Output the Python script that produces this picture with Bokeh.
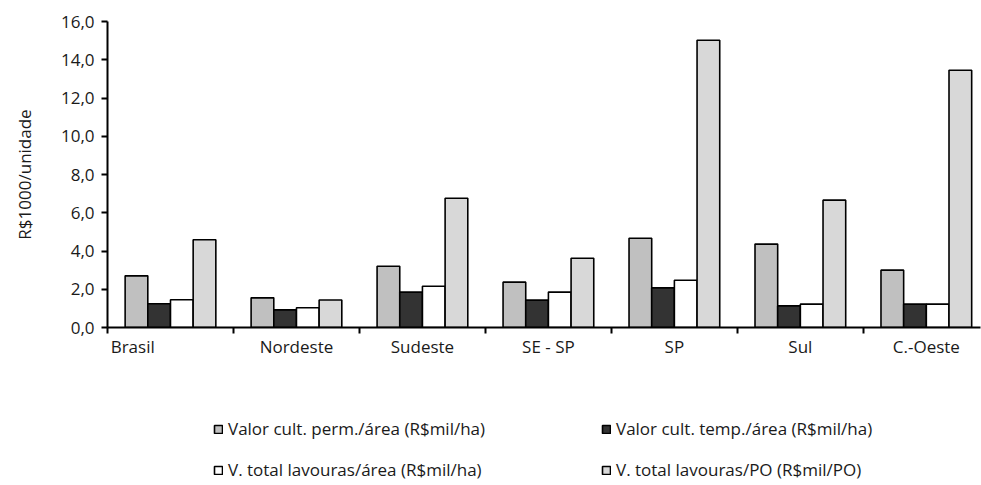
from bokeh.plotting import figure
from bokeh.layouts import column
from bokeh.models import Range1d, FixedTicker, LinearAxis, Legend, LegendItem, ColumnDataSource
from bokeh.embed import file_html
from bokeh.resources import INLINE

# Regions shown on the category axis
regions = ["Brasil", "Nordeste", "Sudeste", "SE - SP", "SP", "Sul", "C.-Oeste"]

# Series values (R$ 1000 per unit)
perm_area = [2.70, 1.55, 3.20, 2.37, 4.67, 4.36, 3.00]
temp_area = [1.24, 0.92, 1.85, 1.43, 2.07, 1.13, 1.22]
total_area = [1.45, 1.03, 2.16, 1.85, 2.47, 1.22, 1.22]
total_po = [4.59, 1.44, 6.76, 3.62, 15.02, 6.66, 13.45]

series_names = [
    "Valor cult. perm./área (R$mil/ha)",
    "Valor cult. temp./área (R$mil/ha)",
    "V. total lavouras/área (R$mil/ha)",
    "V. total lavouras/PO (R$mil/PO)",
]
series_values = [perm_area, temp_area, total_area, total_po]
series_colors = ["#c0c0c0", "#333333", "#ffffff", "#d8d8d8"]

y_ticks = [0, 2, 4, 6, 8, 10, 12, 14, 16]
y_tick_labels = ["0,0", "2,0", "4,0", "6,0", "8,0", "10,0", "12,0", "14,0", "16,0"]

FONT = "Open Sans"
FS = "17px"
TEXT_COLOR = "#1a1a1a"

p = figure(
    width=981, height=365,
    output_backend="svg", toolbar_location=None,
    x_range=Range1d(0, 6.93), y_range=Range1d(0, 16),
    min_border_left=107, min_border_right=1, min_border_top=21, min_border_bottom=38,
)
p.outline_line_color = None
p.grid.grid_line_color = None
p.background_fill_color = "white"
p.border_fill_color = "white"

# grouped bars
n = len(series_values)
bw = 0.18
for i, (vals, col) in enumerate(zip(series_values, series_colors)):
    xs = [k + 0.5 + (i - (n - 1) / 2) * bw for k in range(len(regions))]
    src = ColumnDataSource(dict(x=xs, top=vals))
    p.vbar(x="x", top="top", width=bw, bottom=0, source=src,
           fill_color=col, line_color="black", line_width=1.6)

# y axis
yax = p.yaxis[0]
yax.ticker = FixedTicker(ticks=y_ticks, minor_ticks=[])
yax.major_label_overrides = {t: l for t, l in zip(y_ticks, y_tick_labels)}
yax.axis_label = "R$1000/unidade"
yax.axis_label_text_font = FONT
yax.axis_label_text_font_size = FS
yax.axis_label_text_font_style = "normal"
yax.axis_label_text_color = TEXT_COLOR
yax.axis_label_standoff = 22
yax.major_label_text_font = FONT
yax.major_label_text_font_size = FS
yax.major_label_text_color = TEXT_COLOR
yax.major_label_standoff = 7
yax.major_tick_out = 6
yax.major_tick_in = 0
yax.axis_line_width = 2
yax.major_tick_line_width = 2

# x axis: boundary ticks
xax = p.xaxis[0]
xax.ticker = FixedTicker(ticks=list(range(len(regions) + 1)), minor_ticks=[])
xax.major_label_overrides = {k: "" for k in range(len(regions) + 1)}
xax.major_label_text_font_size = "1px"
xax.major_label_standoff = 0
xax.major_tick_out = 6
xax.major_tick_in = 0
xax.axis_line_width = 2
xax.major_tick_line_width = 2

# x axis: region names
label_pos = [0.2] + [k + 0.5 for k in range(1, len(regions))]
xlab = LinearAxis(ticker=FixedTicker(ticks=label_pos, minor_ticks=[]))
xlab.major_label_overrides = {t: name for t, name in zip(label_pos, regions)}
xlab.axis_line_color = None
xlab.major_tick_line_color = None
xlab.major_tick_out = 0
xlab.major_tick_in = 0
xlab.major_label_standoff = 1
xlab.major_label_text_font = FONT
xlab.major_label_text_font_size = FS
xlab.major_label_text_color = TEXT_COLOR
p.add_layout(xlab, "below")

# legend panel underneath the chart
pl = figure(
    width=981, height=120,
    output_backend="svg", toolbar_location=None,
    x_range=Range1d(0, 1), y_range=Range1d(0, 1),
    x_axis_location=None, y_axis_location=None,
    min_border=0,
)
pl.grid.grid_line_color = None
pl.outline_line_color = None
pl.border_fill_color = "white"

# zero-size bars (one per series) that only provide the legend swatches
legend_renderers = [
    pl.vbar(x=[0.999], bottom=[0.999], top=[0.999], width=0,
            fill_color=col, line_color="black", line_width=1.6)
    for col in series_colors
]

# legend grid fills column by column: first column holds series 1 and 3
order = [0, 2, 1, 3]
legend = Legend(
    items=[LegendItem(label=series_names[k], renderers=[legend_renderers[k]]) for k in order],
    ncols=2,
    location=(106, 4),
    label_text_font=FONT,
    label_text_font_size=FS,
    label_text_color=TEXT_COLOR,
    glyph_width=10, glyph_height=10,
    label_standoff=5,
    label_width=355,
    label_height=20,
    spacing=18,
    padding=0,
    margin=0,
    border_line_color=None,
    background_fill_alpha=0,
)
pl.add_layout(legend, "center")

open("out.html", "w").write(file_html(column(p, pl), INLINE))
